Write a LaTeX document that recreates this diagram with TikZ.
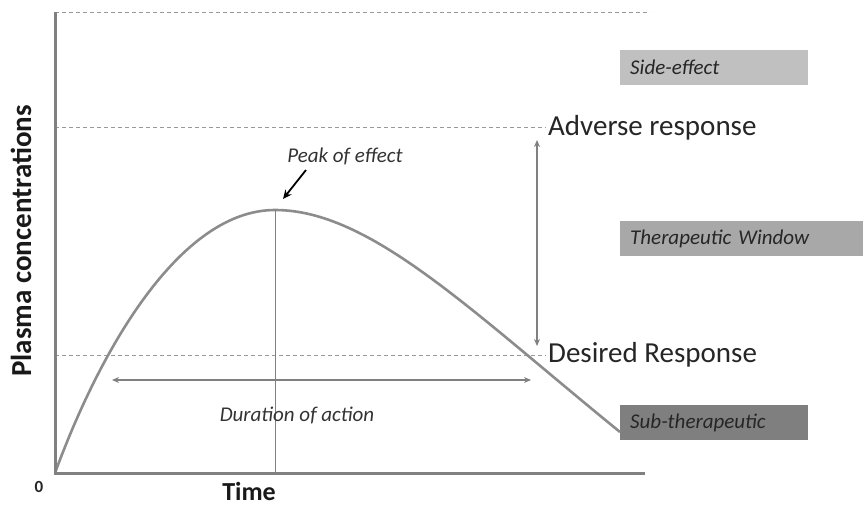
\documentclass[tikz,border=0pt]{standalone}
\usepackage{fontspec}
\setmainfont{Carlito}
\usetikzlibrary{arrows.meta}
\definecolor{axisgray}{HTML}{808080}
\definecolor{curvegray}{HTML}{8C8C8C}
\definecolor{boxA}{HTML}{C0C0C0}
\definecolor{boxB}{HTML}{A8A8A8}
\definecolor{boxC}{HTML}{7F7F7F}
\tikzset{
  guide/.style={draw=gray!80, line width=0.7pt, dash pattern=on 4pt off 3pt},
  zonebox/.style={anchor=north west, inner xsep=10pt, inner ysep=0pt, minimum height=35pt, text=black!85,
    font=\fontsize{21}{23}\selectfont\itshape, align=left},
  lvl/.style={anchor=west, inner sep=0pt, font=\fontsize{29}{31}\selectfont, text=black!85},
  ital/.style={inner sep=0pt, font=\fontsize{21}{23}\selectfont\itshape, text=black!80},
  garrow/.style={draw=axisgray, line width=1.4pt, {Stealth[length=7pt,width=6pt]}-{Stealth[length=7pt,width=6pt]}},
}
\begin{document}
\begin{tikzpicture}[x=1pt,y=-1pt]
\useasboundingbox (0,0) rectangle (863,506);
% coordinates
\coordinate (O) at (55,473);
\coordinate (Ytop) at (55,12);
\coordinate (Xend) at (645,473);
\coordinate (peak) at (275,210);
\coordinate (peakfoot) at (275,473);
\coordinate (curveend) at (620,432);
% guides
\draw[guide] (Ytop) -- (650,12);
\draw[guide] (55,127) coordinate (advL) -- (546,127) coordinate (advR);
\draw[guide] (55,355) coordinate (desL) -- (546,355) coordinate (desR);
% boxes
\node[zonebox, fill=boxA, minimum width=188pt, text width=168pt] (side) at (620,50) {Side-effect};
\node[zonebox, fill=boxB, minimum width=243pt, text width=223pt] (thera) at (620,221) {Therapeutic Window};
\node[zonebox, fill=boxC, minimum width=188pt, text width=168pt] (sub) at (620,405) {Sub-therapeutic};
% curve
\draw[curvegray, line width=2.6pt, line join=round] (O) .. controls (100,350) and (180,210) .. (peak)
   .. controls (370,210) and (470,310) .. (curveend);
\draw[axisgray, line width=1pt] (peak) -- (peakfoot);
% axes
\draw[axisgray, line width=3pt] (Ytop) -- (O) -- (Xend);
% labels
\node[lvl] (adv) at (548,128) {Adverse response};
\node[lvl] (des) at (548,355) {Desired Response};
\node[ital] (peaklbl) at (345,156) {Peak of effect};
\node[ital] (dur) at (297,415) {Duration of action};
\coordinate (pa) at (306,170);
\coordinate (pb) at (283,199);
\draw[black, line width=1.8pt, -{Stealth[length=9pt,width=8pt]}] (pa) -- (pb);
% arrows
\coordinate (v1) at (537,140);
\coordinate (v2) at (537,346);
\draw[garrow] (v1) -- (v2);
\coordinate (h1) at (112,380);
\coordinate (h2) at (531,380);
\draw[garrow] (h1) -- (h2);
% axis labels
\node[font=\fontsize{17}{19}\selectfont\bfseries, text=black!85, inner sep=0pt] (zero) at (39,487) {0};
\node[font=\fontsize{26}{28}\selectfont\bfseries, text=black!90, inner sep=0pt] (time) at (249,491) {Time};
\node[font=\fontsize{29}{31}\selectfont\bfseries, text=black!90, inner sep=0pt, rotate=90] (plasma) at (21,241) {Plasma concentrations};
\end{tikzpicture}
\end{document}
